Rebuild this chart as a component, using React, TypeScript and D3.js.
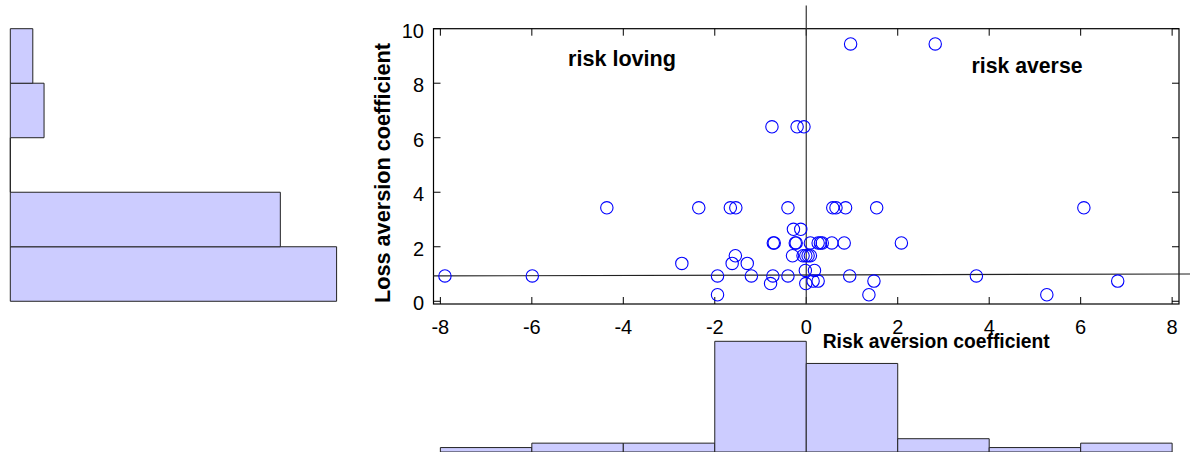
import React from 'react';
import * as d3 from 'd3';

// scatter: risk aversion (x) vs loss aversion (y), one entry per subject
const riskAversion = [
  0.97, 2.82,
  -0.75, -0.2, -0.05,
  -4.36, -2.35, -1.66, -1.54, -0.4, 0.58, 0.65, 0.86, 1.54, 6.07,
  -0.28, -0.12,
  -0.72, -0.7, -0.24, -0.22, 0.09, 0.26, 0.31, 0.35, 0.56, 0.83, 2.08,
  -1.55, -0.3, -0.07, -0.01, 0.04, 0.09,
  -2.72, -1.62, -1.29,
  -0.02, 0.18,
  -7.9, -5.99, -1.94, -1.2, -0.73, -0.4, 0.95, 3.72,
  0.15, 0.26, 1.48, 6.81,
  -0.78, -0.01,
  -1.94, 1.37, 5.26,
];
const lossAversion = [
  9.44, 9.44,
  6.4, 6.4, 6.4,
  3.43, 3.43, 3.43, 3.43, 3.43, 3.43, 3.43, 3.43, 3.43, 3.43,
  2.64, 2.64,
  2.14, 2.14, 2.14, 2.14, 2.14, 2.14, 2.14, 2.14, 2.14, 2.14, 2.14,
  1.67, 1.67, 1.67, 1.67, 1.67, 1.67,
  1.39, 1.39, 1.39,
  1.13, 1.13,
  0.93, 0.93, 0.93, 0.93, 0.93, 0.93, 0.93, 0.93,
  0.74, 0.74, 0.74, 0.74,
  0.65, 0.65,
  0.24, 0.24, 0.24,
];

// marginal histograms (counts)
const xBinEdges = [-8, -6, -4, -2, 0, 2, 4, 6, 8];
const xBinCounts = [1, 2, 2, 25, 20, 3, 1, 2];
const yBinEdges = [0, 2, 4, 6, 8, 10];
const yBinCounts = [29, 24, 0, 3, 2];

const xTicks = [-8, -6, -4, -2, 0, 2, 4, 6, 8];
const yTicks = [0, 2, 4, 6, 8, 10];

// reference lines
const hLine = { x: [-8.15, 8.45], y: [0.93, 1.0] };
const vLine = { x: 0, y: [-0.1, 10.85] };

const W = 1190;
const H = 452;
const FONT = "'Liberation Sans', Arial, Helvetica, sans-serif";
const BAR_FILL = '#ccccff';
const BAR_STROKE = '#222';

export default function App() {
  const x = d3.scaleLinear().domain([-8.15, 8.15]).range([433.5, 1179]);
  const y = d3.scaleLinear().domain([-0.1, 10]).range([304, 28.7]);

  // left histogram: horizontal bars sharing the y scale
  const hx = d3.scaleLinear().domain([0, 29]).range([10.3, 336.6]);
  // bottom histogram: vertical bars sharing the x scale
  const hy = d3.scaleLinear().domain([0, 25]).range([452, 341.3]);

  const tickLen = 7;
  const [x0, x1] = x.range();
  const [y0, y1] = y.range();

  const barPath = (l: number, r: number, t: number, b: number) =>
    `M${l},${b}V${t}H${r}V${b}Z`;

  const line = d3.line<[number, number]>()
    .x(d => x(d[0]))
    .y(d => y(d[1]));

  return (
    <svg
      width={W}
      height={H}
      viewBox={`0 0 ${W} ${H}`}
      style={{ position: 'absolute', left: 0, top: 0, background: '#fff', fontFamily: FONT }}
    >
      {/* left histogram */}
      <g>
        {yBinCounts.map((c, i) => (
          <path
            key={i}
            d={barPath(hx(0), hx(c), y(yBinEdges[i + 1]), y(yBinEdges[i]))}
            fill={BAR_FILL}
            stroke={BAR_STROKE}
            strokeWidth={1}
          />
        ))}
      </g>

      {/* bottom histogram */}
      <g>
        {xBinCounts.map((c, i) => (
          <path
            key={i}
            d={barPath(x(xBinEdges[i]), x(xBinEdges[i + 1]), hy(c), hy(0))}
            fill={BAR_FILL}
            stroke={BAR_STROKE}
            strokeWidth={1}
          />
        ))}
      </g>

      {/* axes box */}
      <rect x={x0} y={y1} width={x1 - x0} height={y0 - y1} fill="none" stroke="#000" strokeWidth={1.2} />

      {/* ticks, pointing inward on all four sides */}
      <g stroke="#000" strokeWidth={1}>
        {xTicks.map(t => (
          <g key={'x' + t}>
            <line x1={x(t)} x2={x(t)} y1={y0} y2={y0 - tickLen} />
            <line x1={x(t)} x2={x(t)} y1={y1} y2={y1 + tickLen} />
          </g>
        ))}
        {yTicks.map(t => (
          <g key={'y' + t}>
            <line x1={x0} x2={x0 + tickLen} y1={y(t)} y2={y(t)} />
            <line x1={x1} x2={x1 - tickLen} y1={y(t)} y2={y(t)} />
          </g>
        ))}
      </g>

      {/* tick labels */}
      <g fontSize={20} fill="#000">
        {xTicks.map(t => (
          <text key={'xl' + t} x={x(t)} y={334} textAnchor="middle">{t}</text>
        ))}
        {yTicks.map(t => (
          <text key={'yl' + t} x={424} y={y(t) + 2} dy="0.35em" textAnchor="end">{t}</text>
        ))}
      </g>

      {/* reference lines */}
      <path
        d={line([[hLine.x[0], hLine.y[0]], [hLine.x[1], hLine.y[1]]]) || ''}
        stroke="#222"
        strokeWidth={1.2}
        fill="none"
      />
      <path
        d={line([[vLine.x, vLine.y[0]], [vLine.x, vLine.y[1]]]) || ''}
        stroke="#333"
        strokeWidth={1.2}
        fill="none"
      />

      {/* scatter */}
      <g fill="none" stroke="#0000ff" strokeWidth={1.1}>
        {riskAversion.map((rv, i) => (
          <circle key={i} cx={x(rv)} cy={y(lossAversion[i])} r={6.2} />
        ))}
      </g>

      {/* annotations */}
      <g fontWeight="bold" fill="#000">
        <text x={622} y={65.7} fontSize={22} textAnchor="middle" textLength={108} lengthAdjust="spacingAndGlyphs">
          risk loving
        </text>
        <text x={1027} y={73.3} fontSize={22} textAnchor="middle" textLength={111} lengthAdjust="spacingAndGlyphs">
          risk averse
        </text>
        <text x={822.7} y={348.3} fontSize={20} textLength={227} lengthAdjust="spacingAndGlyphs">
          Risk aversion coefficient
        </text>
        <text
          transform="translate(390,173) rotate(-90)"
          fontSize={22}
          textAnchor="middle"
          textLength={260}
          lengthAdjust="spacingAndGlyphs"
        >
          Loss aversion coefficient
        </text>
      </g>
    </svg>
  );
}
